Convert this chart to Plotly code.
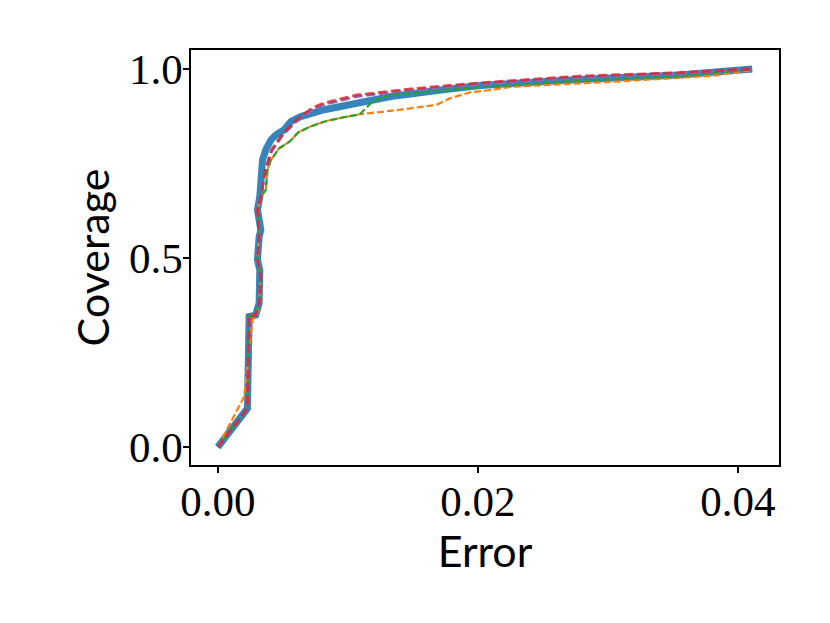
import plotly.graph_objects as go

# Blue (thick) series
blue_x = [0.0, 0.00228, 0.00241, 0.00292, 0.00318, 0.00331, 0.00323, 0.00305, 0.00305, 0.00318,
          0.00331, 0.00313, 0.00305, 0.00323, 0.00331, 0.00338, 0.00344, 0.00369, 0.00408, 0.00446,
          0.0051, 0.00562, 0.00638, 0.00818, 0.01075, 0.0133, 0.0178, 0.0202, 0.0278, 0.0355, 0.0411]
blue_y = [0.0, 0.102, 0.345, 0.349, 0.381, 0.451, 0.468, 0.495, 0.521, 0.556,
          0.574, 0.609, 0.627, 0.662, 0.698, 0.733, 0.759, 0.786, 0.812, 0.825,
          0.839, 0.861, 0.874, 0.892, 0.909, 0.927, 0.947, 0.956, 0.972, 0.984, 1.0]

# Orange dashed series
orange_x = [0.0, 0.00202, 0.00267, 0.00305, 0.00318, 0.00331, 0.00305, 0.00318, 0.00305, 0.00331,
            0.00369, 0.00382, 0.00408, 0.00472, 0.00554, 0.00618, 0.00708, 0.00823, 0.00938, 0.01092,
            0.014, 0.01682, 0.01785, 0.01938, 0.02092, 0.0227, 0.0304, 0.0381, 0.0411]
orange_y = [0.0, 0.133, 0.336, 0.354, 0.381, 0.451, 0.495, 0.556, 0.627, 0.662,
            0.68, 0.733, 0.759, 0.79, 0.808, 0.832, 0.847, 0.861, 0.87, 0.88,
            0.892, 0.905, 0.922, 0.938, 0.944, 0.953, 0.966, 0.982, 0.997]

# Green dashed series
green_x = [0.0, 0.00228, 0.00241, 0.00292, 0.00318, 0.00331, 0.00305, 0.00318, 0.00305, 0.00331,
           0.00369, 0.00382, 0.00408, 0.00472, 0.00554, 0.00618, 0.00708, 0.00823, 0.00938, 0.01092,
           0.01195, 0.01323, 0.0202, 0.0278, 0.0355, 0.0411]
green_y = [0.0, 0.102, 0.345, 0.349, 0.381, 0.451, 0.495, 0.556, 0.627, 0.662,
           0.68, 0.733, 0.759, 0.79, 0.808, 0.832, 0.847, 0.861, 0.87, 0.88,
           0.915, 0.931, 0.951, 0.969, 0.98, 0.999]

# Red dashed series
red_x = [0.0, 0.00228, 0.00241, 0.00292, 0.00318, 0.00331, 0.00305, 0.00318, 0.00305, 0.00331,
         0.00362, 0.00413, 0.00502, 0.00605, 0.00721, 0.0081, 0.01067, 0.01452, 0.01836, 0.02092,
         0.0278, 0.0355, 0.0411]
red_y = [0.0, 0.102, 0.345, 0.349, 0.381, 0.451, 0.495, 0.556, 0.627, 0.662,
         0.728, 0.786, 0.83, 0.865, 0.896, 0.909, 0.931, 0.946, 0.958, 0.965,
         0.981, 0.99, 1.0]

# Purple dashed series
purple_x = [0.0, 0.00228, 0.00241, 0.00292, 0.00318, 0.00331, 0.00305, 0.00318, 0.00305, 0.00331,
            0.00362, 0.00413, 0.00502, 0.00605, 0.00721, 0.0081, 0.01067, 0.01452, 0.01836, 0.02092,
            0.0278, 0.0355, 0.0411]
purple_y = [0.0, 0.102, 0.345, 0.349, 0.381, 0.451, 0.495, 0.556, 0.627, 0.662,
            0.726, 0.782, 0.826, 0.861, 0.891, 0.905, 0.927, 0.943, 0.955, 0.962,
            0.978, 0.988, 1.0]

x_ticks = [0.0, 0.02, 0.04]
x_tick_labels = ["0.00", "0.02", "0.04"]
y_ticks = [0.0, 0.5, 1.0]
y_tick_labels = ["0.0", "0.5", "1.0"]

fig = go.Figure()
fig.add_trace(go.Scatter(x=blue_x, y=blue_y, mode="lines",
                         line=dict(color="rgba(31,119,180,0.9)", width=7)))
fig.add_trace(go.Scatter(x=orange_x, y=orange_y, mode="lines",
                         line=dict(color="#ff7f0e", width=2.2, dash="7px,3px")))
fig.add_trace(go.Scatter(x=green_x, y=green_y, mode="lines",
                         line=dict(color="#2ca02c", width=2.2, dash="7px,3px")))
fig.add_trace(go.Scatter(x=purple_x, y=purple_y, mode="lines",
                         line=dict(color="#9467bd", width=2.8, dash="9px,4px")))
fig.add_trace(go.Scatter(x=red_x, y=red_y, mode="lines",
                         line=dict(color="rgba(214,39,40,0.8)", width=2.8, dash="9px,4px")))

axis_common = dict(showgrid=False, zeroline=False, showline=True, linecolor="black",
                   linewidth=1.5, mirror=True, ticks="outside", ticklen=6, tickwidth=1.5,
                   tickcolor="black",
                   tickfont=dict(family="Liberation Serif", size=43, color="black"))

fig.update_xaxes(range=[-0.00206, 0.04316], tickvals=x_ticks, ticktext=x_tick_labels,
                 ticklabelstandoff=-8,
                 title=dict(text="Error", font=dict(family="Lato", size=43, color="black"),
                            standoff=0),
                 **axis_common)
fig.update_yaxes(range=[-0.0476, 1.050], tickvals=y_ticks, ticktext=y_tick_labels,
                 ticklabelstandoff=-8,
                 title=dict(text="Coverage", font=dict(family="Lato", size=43, color="black"),
                            standoff=6),
                 **axis_common)

fig.update_layout(width=830, height=623, showlegend=False,
                  plot_bgcolor="white", paper_bgcolor="white",
                  margin=dict(l=183, r=59, t=42, b=166, autoexpand=False))

fig.write_html("out.html")
